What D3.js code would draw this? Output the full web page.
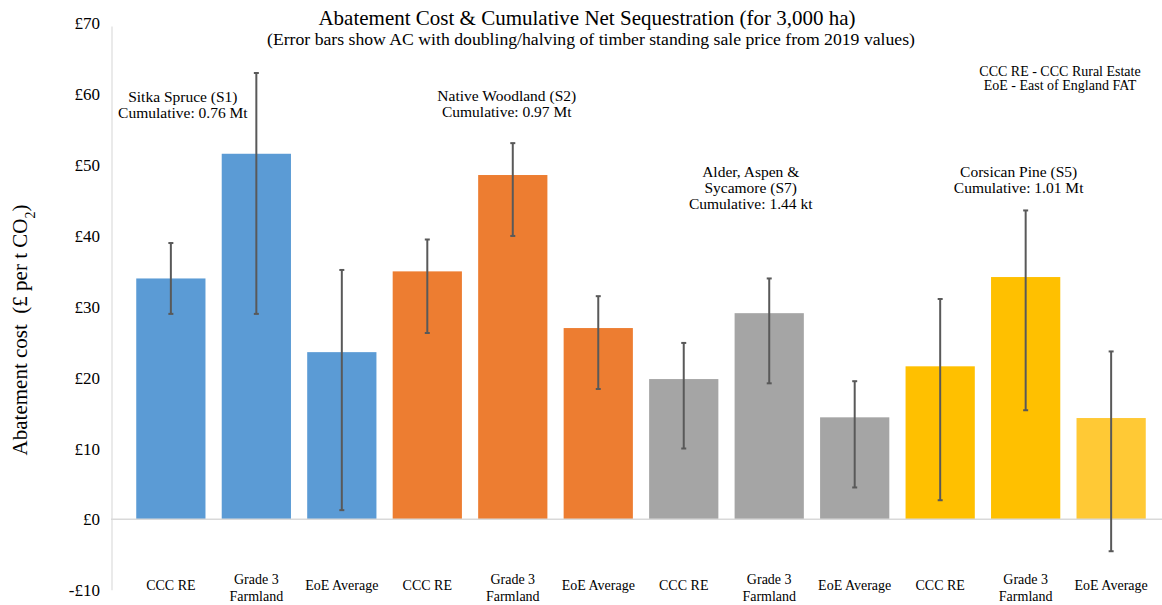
<!DOCTYPE html>
<html>
<head>
<meta charset="utf-8">
<script src="https://cdn.jsdelivr.net/npm/d3@7"></script>
<style>
  body { margin: 0; background: #fff; }
  svg text { font-family: "Liberation Serif", "Times New Roman", serif; fill: #000; white-space: pre; }
</style>
</head>
<body>
<svg id="chart" width="1162" height="605" font-family="Liberation Serif, serif"></svg>
<script>
// Bar categories (x labels), one per bar, and which species group they belong to
const labels = ["CCC RE", "Grade 3|Farmland", "EoE Average",
                "CCC RE", "Grade 3|Farmland", "EoE Average",
                "CCC RE", "Grade 3|Farmland", "EoE Average",
                "CCC RE", "Grade 3|Farmland", "EoE Average"];
const groups = [0, 0, 0, 1, 1, 1, 2, 2, 2, 3, 3, 3];

// Abatement cost (£ per t CO2)
const values = [34.0, 51.6, 23.6, 35.0, 48.6, 27.0, 19.8, 29.1, 14.4, 21.6, 34.2, 14.3];
// Error bar ends (timber price halved / doubled)
const errHigh = [39.0, 63.0, 35.2, 39.5, 53.1, 31.5, 24.9, 34.0, 19.5, 31.1, 43.6, 23.7];
const errLow  = [29.0, 29.0, 1.3, 26.3, 40.0, 18.4, 10.0, 19.2, 4.5, 2.7, 15.4, -4.5];

const yTicks = [-10, 0, 10, 20, 30, 40, 50, 60, 70];

// Species annotations: lines of text, the bar they sit near, value level of the first line
const notes = [
  { lines: ["Sitka Spruce (S1)", "Cumulative: 0.76 Mt"], bar: 0, dx: 12, level: 58.9 },
  { lines: ["Native Woodland (S2)", "Cumulative: 0.97 Mt"], bar: 4, dx: -6, level: 59.0 },
  { lines: ["Alder, Aspen &", "Sycamore (S7)", "Cumulative: 1.44 kt"], bar: 8, dx: -104, level: 48.3 },
  { lines: ["Corsican Pine (S5)", "Cumulative: 1.01 Mt"], bar: 10, dx: -7, level: 48.3 }
];
const key = ["CCC RE - CCC Rural Estate", "EoE - East of England FAT"];

const colours = ["#5B9BD5", "#ED7D31", "#A5A5A5", "#FFC000"];
const lastColour = "#FFC935";

var svg = d3.select("svg#chart");

const plotLeft = 112, plotRight = 1162, plotTop = 23.4, plotBottom = 590.2;

var x = d3.scaleBand()
    .domain(d3.range(values.length))
    .range([120, 1162])
    .paddingInner(0.19)
    .paddingOuter(0.19);

var y = d3.scaleLinear()
    .domain([-10, 70])
    .range([plotBottom, plotTop]);

// y axis line
svg.append("line")
    .attr("x1", plotLeft).attr("x2", plotLeft)
    .attr("y1", y(70) + 3).attr("y2", plotBottom)
    .style("stroke", "#e3e3e3").style("stroke-width", 1.5);

// tick labels
svg.append("g").selectAll("text")
    .data(yTicks)
    .enter()
    .append("text")
    .attr("x", 100)
    .attr("y", d => y(d) + 6)
    .attr("text-anchor", "end")
    .style("font-size", "17px")
    .text(d => (d < 0 ? "-£" : "£") + Math.abs(d));

// bars
svg.append("g").selectAll("rect")
    .data(values)
    .enter()
    .append("rect")
    .attr("x", (d, i) => x(i))
    .attr("width", x.bandwidth())
    .attr("y", d => y(Math.max(0, d)))
    .attr("height", d => Math.abs(y(d) - y(0)))
    .style("fill", (d, i) => i == values.length - 1 ? lastColour : colours[groups[i]]);

// zero line
svg.append("line")
    .attr("x1", plotLeft - 1).attr("x2", plotRight)
    .attr("y1", y(0)).attr("y2", y(0))
    .style("stroke", "#d9d9d9").style("stroke-width", 1.5);

// error bars
var err = svg.append("g").selectAll("g")
    .data(values)
    .enter()
    .append("g");
err.append("line")
    .attr("x1", (d, i) => x(i) + x.bandwidth() / 2)
    .attr("x2", (d, i) => x(i) + x.bandwidth() / 2)
    .attr("y1", (d, i) => y(errHigh[i]))
    .attr("y2", (d, i) => y(errLow[i]))
    .style("stroke", "#595959").style("stroke-width", 2);
[errHigh, errLow].forEach(function(arr) {
  err.append("line")
      .attr("x1", (d, i) => x(i) + x.bandwidth() / 2 - 2.5)
      .attr("x2", (d, i) => x(i) + x.bandwidth() / 2 + 2.5)
      .attr("y1", (d, i) => y(arr[i]))
      .attr("y2", (d, i) => y(arr[i]))
      .style("stroke", "#595959").style("stroke-width", 2);
});

// category labels
var cat = svg.append("g").selectAll("text")
    .data(labels)
    .enter()
    .append("text")
    .attr("text-anchor", "middle")
    .attr("x", (d, i) => x(i) + x.bandwidth() / 2)
    .attr("y", d => d.indexOf("|") >= 0 ? 584 : 590)
    .style("font-size", "14px");
cat.selectAll("tspan")
    .data(d => d.split("|"))
    .enter()
    .append("tspan")
    .attr("x", function() { return d3.select(this.parentNode).attr("x"); })
    .attr("dy", (d, i) => i == 0 ? 0 : 17)
    .text(d => d);

// title
svg.append("text")
    .attr("x", 587).attr("y", 25)
    .attr("text-anchor", "middle")
    .style("font-size", "21px")
    .text("Abatement Cost & Cumulative Net Sequestration (for 3,000 ha)");
svg.append("text")
    .attr("x", 591).attr("y", 45)
    .attr("text-anchor", "middle")
    .style("font-size", "17.7px")
    .text("(Error bars show AC with doubling/halving of timber standing sale price from 2019 values)");

// y axis title
svg.append("text")
    .attr("transform", "translate(27,330) rotate(-90)")
    .attr("text-anchor", "middle")
    .style("font-size", "21px")
    .html("Abatement cost  (£ per t CO<tspan baseline-shift='sub' font-size='14px'>2</tspan>)");

// species notes
notes.forEach(function(n) {
  var cx = x(n.bar) + x.bandwidth() / 2 + n.dx;
  svg.append("text")
      .attr("text-anchor", "middle")
      .style("font-size", "15.5px")
      .selectAll("tspan")
      .data(n.lines)
      .enter()
      .append("tspan")
      .attr("x", cx)
      .attr("y", (d, i) => y(n.level) + i * 15.8)
      .text(d => d);
});

// abbreviations key
svg.append("text")
    .attr("text-anchor", "middle")
    .style("font-size", "14px")
    .selectAll("tspan")
    .data(key)
    .enter()
    .append("tspan")
    .attr("x", 1060)
    .attr("y", (d, i) => 75.5 + i * 14.5)
    .text(d => d);
</script>
</body>
</html>
